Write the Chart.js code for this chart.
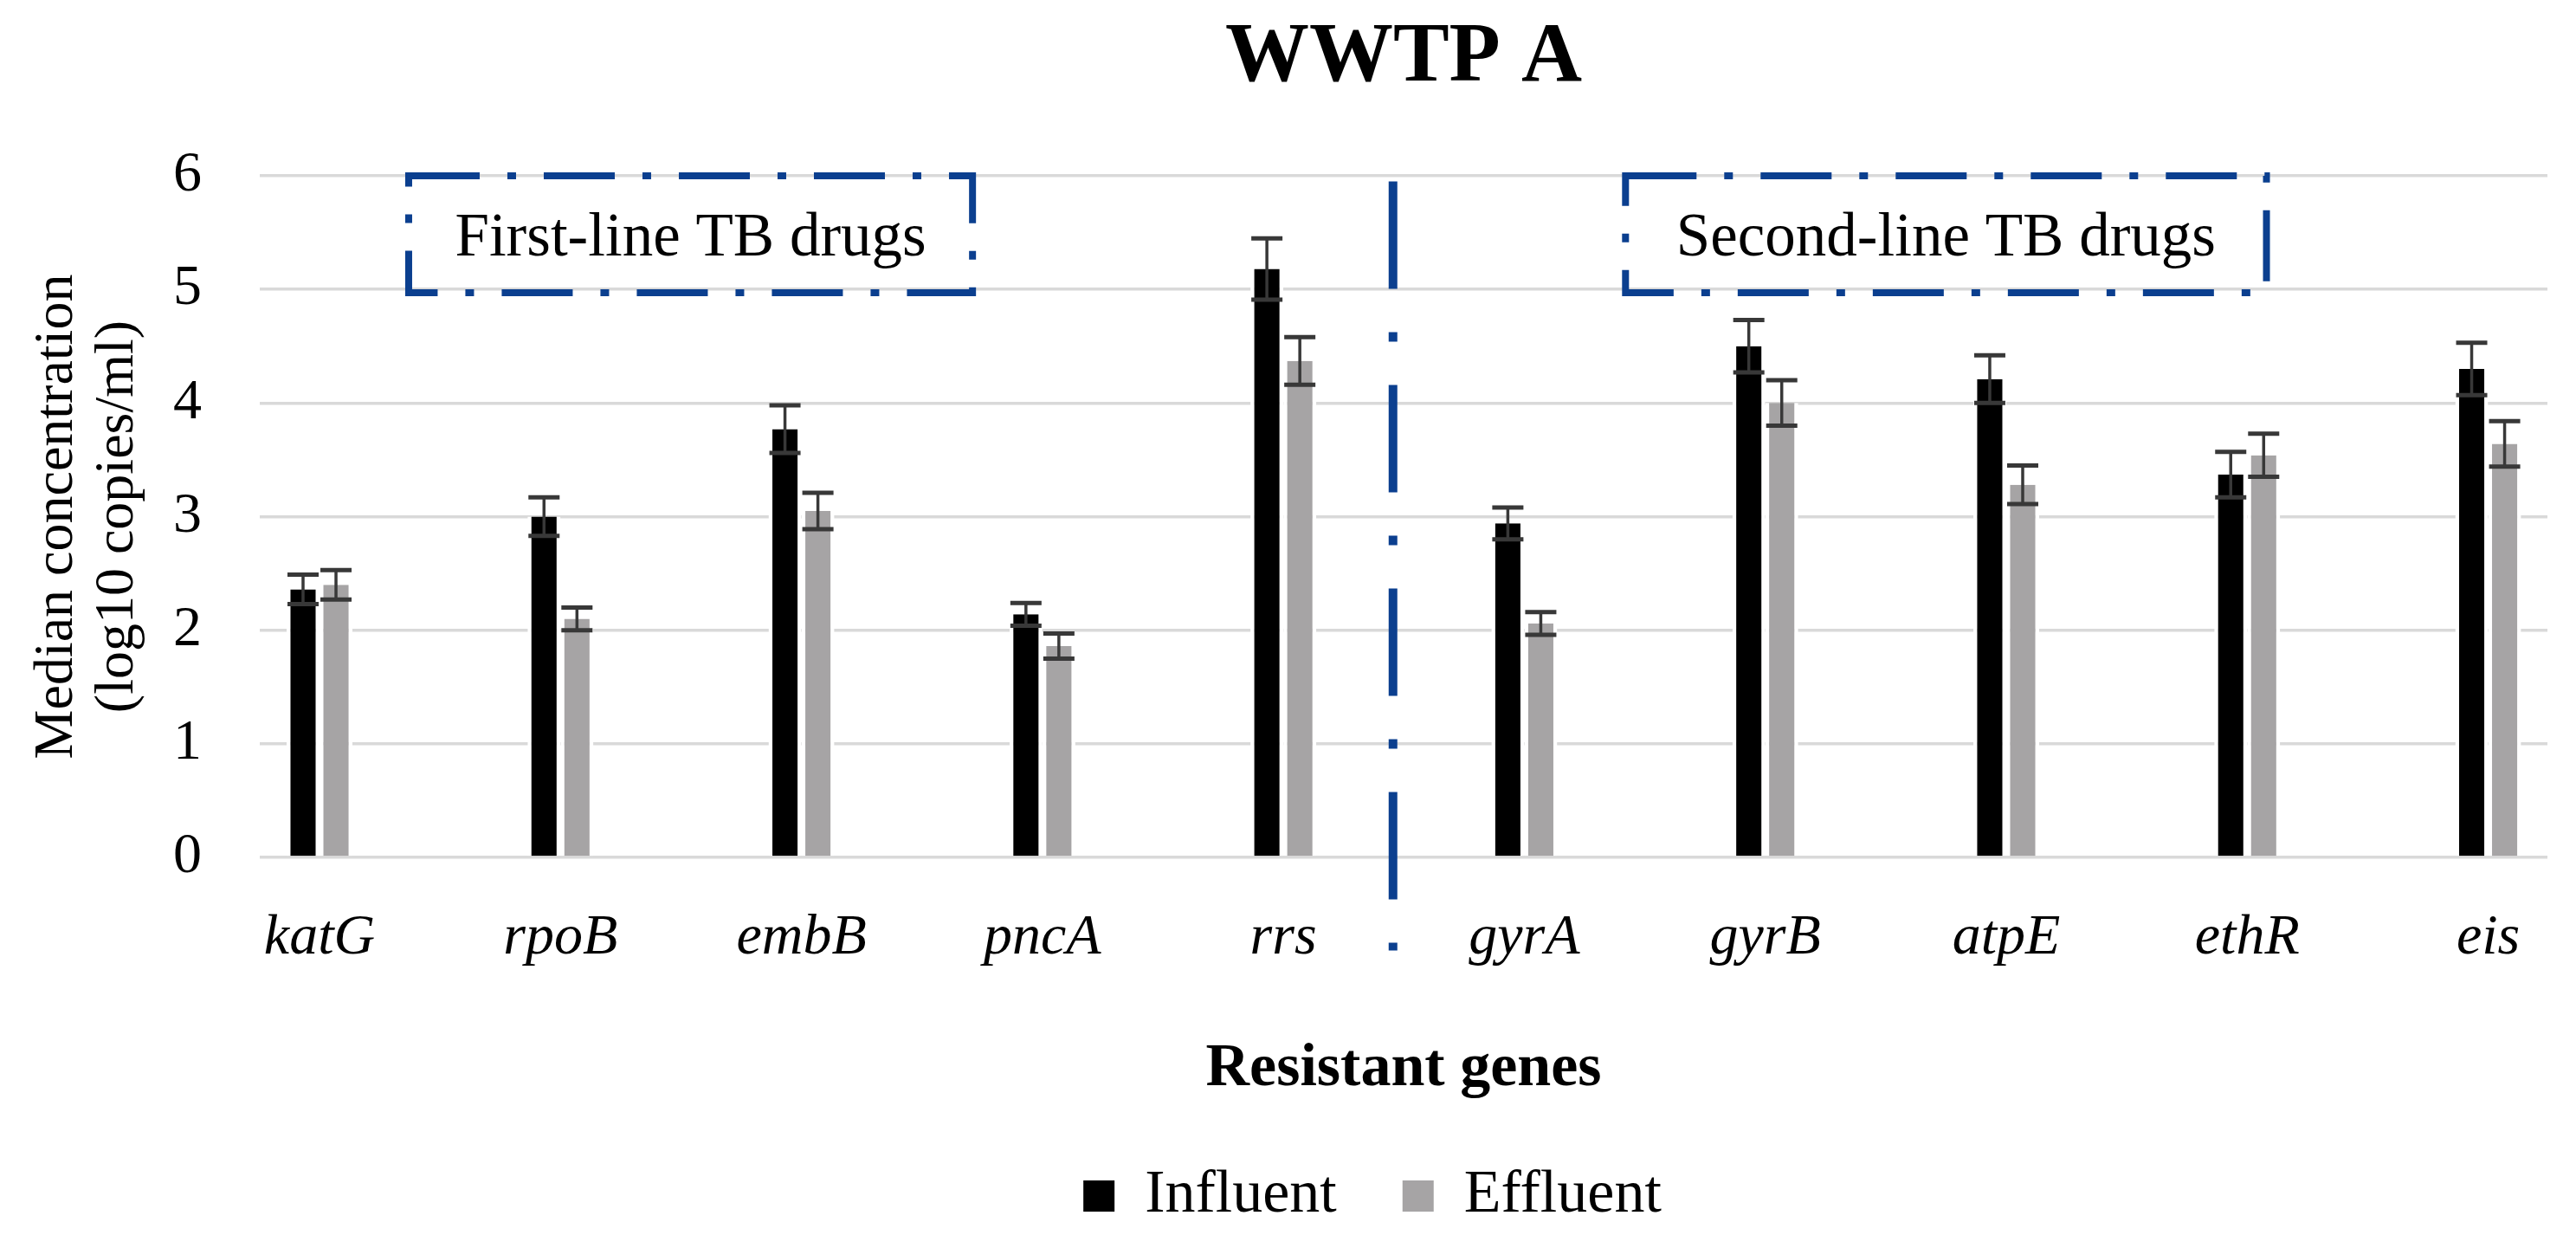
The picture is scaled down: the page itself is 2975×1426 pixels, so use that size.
<!DOCTYPE html>
<html>
<head>
<meta charset="utf-8">
<title>WWTP A</title>
<script src="https://cdn.jsdelivr.net/npm/chart.js@4.4.0/dist/chart.umd.min.js"></script>
<style>
  html, body { margin: 0; padding: 0; background: #fff; }
  #wrap { width: 2975px; height: 1426px; position: relative; }
</style>
</head>
<body>
<div id="wrap"><canvas id="wwtpA"></canvas></div>
<script>
var genes = ["katG", "rpoB", "embB", "pncA", "rrs", "gyrA", "gyrB", "atpE", "ethR", "eis"];
var influent = [2.36, 3.0, 3.77, 2.14, 5.18, 2.94, 4.5, 4.21, 3.37, 4.3];
var influentErr = [0.13, 0.17, 0.21, 0.1, 0.27, 0.14, 0.23, 0.21, 0.2, 0.23];
var effluent = [2.4, 2.1, 3.05, 1.86, 4.37, 2.06, 4.0, 3.28, 3.54, 3.64];
var effluentErr = [0.13, 0.1, 0.16, 0.11, 0.21, 0.1, 0.2, 0.17, 0.19, 0.2];
var yTicks = [0, 1, 2, 3, 4, 5, 6];

// dash-dot group boxes and the separator, in axis units
var drugGroups = [
  { text: "First-line TB drugs", from: 0.37, to: 2.71 },
  { text: "Second-line TB drugs", from: 5.42, to: 8.08 }
];
var boxTop = 6, boxBottom = 4.97;
var separatorX = 4.455, separatorTop = 5.95, separatorBottom = -0.82;

var serif = "'Liberation Serif', 'Times New Roman', serif";
var navy = "#0b3f8f";

function points(values) {
  return values.map(function (v, i) { return { x: i, y: v }; });
}

var errorBars = {
  id: "errorBars",
  afterDatasetsDraw: function (chart) {
    var ctx = chart.ctx, y = chart.scales.y;
    var errs = [influentErr, effluentErr];
    ctx.save();
    ctx.strokeStyle = "#383838";
    chart.data.datasets.forEach(function (ds, d) {
      chart.getDatasetMeta(d).data.forEach(function (bar, i) {
        var v = ds.data[i].y, e = errs[d][i];
        var top = y.getPixelForValue(v + e), bot = y.getPixelForValue(v - e);
        ctx.lineWidth = 3.5;
        ctx.beginPath();
        ctx.moveTo(bar.x, top);
        ctx.lineTo(bar.x, bot);
        ctx.stroke();
        ctx.lineWidth = 5;
        ctx.beginPath();
        ctx.moveTo(bar.x - 18, top);
        ctx.lineTo(bar.x + 18, top);
        ctx.moveTo(bar.x - 18, bot);
        ctx.lineTo(bar.x + 18, bot);
        ctx.stroke();
      });
    });
    ctx.restore();
  }
};

var drugAnnotations = {
  id: "drugAnnotations",
  afterDraw: function (chart) {
    var ctx = chart.ctx, x = chart.scales.x, y = chart.scales.y;
    ctx.save();
    ctx.strokeStyle = navy;
    ctx.lineWidth = 8;
    ctx.setLineDash([82, 32, 10, 32]);
    drugGroups.forEach(function (g) {
      var l = x.getPixelForValue(g.from), r = x.getPixelForValue(g.to);
      var t = y.getPixelForValue(boxTop), b = y.getPixelForValue(boxBottom);
      ctx.strokeRect(l, t, r - l, b - t);
      ctx.fillStyle = "#000";
      ctx.font = "71px " + serif;
      ctx.textAlign = "center";
      ctx.textBaseline = "middle";
      ctx.fillText(g.text, (l + r) / 2, (t + b) / 2 + 6);
    });
    ctx.lineWidth = 10;
    ctx.setLineDash([124, 50, 11, 50]);
    var sx = x.getPixelForValue(separatorX);
    ctx.beginPath();
    ctx.moveTo(sx, y.getPixelForValue(separatorTop));
    ctx.lineTo(sx, y.getPixelForValue(separatorBottom));
    ctx.stroke();
    ctx.restore();
  }
};

// legend sits a little left of the plot centre in the original
var legendNudge = {
  id: "legendNudge",
  afterLayout: function (chart) {
    chart.legend.left -= 36;
    chart.legend.right -= 36;
  }
};

new Chart(document.getElementById("wwtpA"), {
  type: "bar",
  data: {
    datasets: [
      {
        label: "Influent",
        data: points(influent),
        backgroundColor: "#000000",
        borderColor: "#ffffff",
        borderWidth: { left: 4.5, right: 4.5, top: 0, bottom: 0 }
      },
      {
        label: "Effluent",
        data: points(effluent),
        backgroundColor: "#a6a4a5",
        borderColor: "#ffffff",
        borderWidth: { left: 4.5, right: 4.5, top: 0, bottom: 0 }
      }
    ]
  },
  plugins: [errorBars, drugAnnotations, legendNudge],
  options: {
    responsive: true,
    maintainAspectRatio: false,
    devicePixelRatio: 1,
    animation: false,
    events: [],
    categoryPercentage: 0.2734,
    barPercentage: 1,
    layout: { padding: { left: 0, right: 33, top: 0, bottom: 0 } },
    plugins: {
      tooltip: { enabled: false },
      title: {
        display: true,
        text: "WWTP A",
        fullSize: false,
        color: "#000",
        font: { family: serif, size: 97, weight: "bold", lineHeight: 1.2 },
        padding: { top: 10, bottom: 76.6 }
      },
      legend: {
        position: "bottom",
        fullSize: false,
        labels: {
          color: "#000",
          font: { family: serif, size: 70 },
          boxWidth: 36,
          boxHeight: 36,
          padding: 76,
          generateLabels: function (chart) {
            return Chart.defaults.plugins.legend.labels.generateLabels(chart).map(function (l) {
              l.lineWidth = 0;
              return l;
            });
          }
        }
      }
    },
    scales: {
      x: {
        type: "linear",
        min: -0.248,
        max: 9.246,
        offset: false,
        grid: { display: false, offset: false },
        border: { display: false },
        afterBuildTicks: function (scale) {
          scale.ticks = genes.map(function (g, i) { return { value: i }; });
        },
        afterFit: function (scale) { scale.height = 280; },
        ticks: {
          color: "#000",
          padding: 46,
          maxRotation: 0,
          autoSkip: false,
          font: { family: serif, size: 66, style: "italic" },
          callback: function (value) { return genes[value]; }
        },
        title: {
          display: true,
          text: "Resistant genes",
          color: "#000",
          font: { family: serif, size: 70, weight: "bold", lineHeight: 1 },
          padding: { top: 0, bottom: 0 }
        }
      },
      y: {
        min: yTicks[0],
        max: yTicks[yTicks.length - 1],
        afterBuildTicks: function (scale) {
          scale.ticks = yTicks.map(function (v) { return { value: v }; });
        },
        afterFit: function (scale) { scale.width = 300; },
        grid: { color: "#d9d9d9", lineWidth: 3.5, drawTicks: false },
        border: { display: false },
        ticks: {
          color: "#000",
          padding: 67,
          font: { family: serif, size: 66 }
        },
        title: {
          display: true,
          text: ["Median concentration", "(log10 copies/ml)"],
          color: "#000",
          font: { family: serif, size: 64, lineHeight: 1.1 },
          padding: { top: 31, bottom: 0 }
        }
      }
    }
  }
});
</script>
</body>
</html>
